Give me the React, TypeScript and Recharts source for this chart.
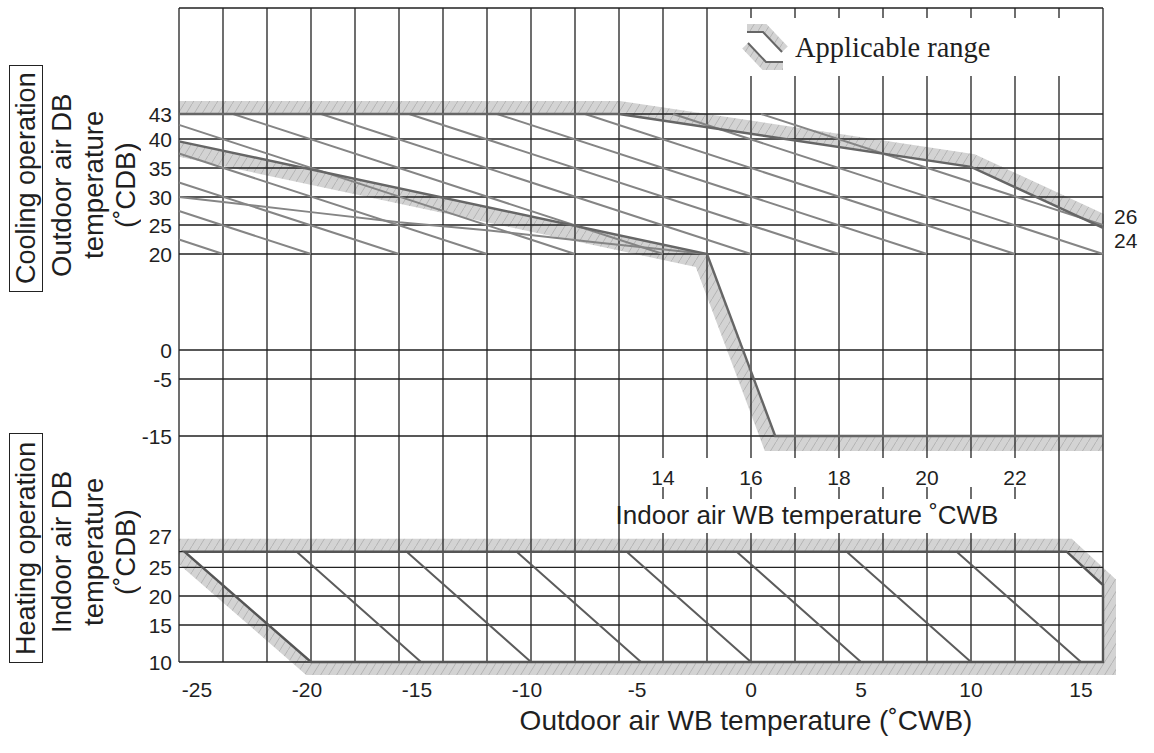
import React from 'react';
import { ComposedChart, Scatter, XAxis, YAxis } from 'recharts';

type Pt = [number, number];
type XY = { x: number; y: number };

// ---- cooling: indoor WB (°CWB) across, outdoor DB (°CDB) up ----
const coolLevels = [43, 40, 35, 30, 25, 20, 0, -5, -15];

const coolUpper: Pt[] = [[3, 43], [13, 43], [21, 35.2], [24, 24.5]];
const coolLower: Pt[] = [[3, 39.6], [15, 20], [16.55, -15], [24, -15]];

const coolDiagonals: Pt[][] = [
  [[3, 22.5], [4, 20]],
  [[3, 27.5], [6, 20]],
  [[3, 32.5], [8, 20]],
  [[3, 37.5], [10, 20]],
  [[3, 41.7], [12, 20]],
  [[4.23, 43], [14, 20]],
  [[6.23, 43], [16, 20]],
  [[8.23, 43], [18, 20]],
  [[10.23, 43], [20, 20]],
  [[12.23, 43], [22, 20]],
  [[14.23, 43], [24, 20]],
  [[16.23, 43], [24, 25]],
];

const coolCurve: Pt[] = [[3, 30], [6, 27.3], [8, 25.5], [10, 24.1], [12.5, 22], [15, 20]];

// ---- heating: outdoor WB (°CWB) across, indoor DB (°CDB) up ----
const heatLevels = [27, 25, 20, 15, 10];

const heatRange: Pt[] = [[-25.75, 27], [14.35, 27], [16, 21.9], [16, 10], [-20, 10]];

const heatDiagonals: Pt[][] = [
  [[-20.65, 27], [-15, 10]],
  [[-15.65, 27], [-10, 10]],
  [[-10.65, 27], [-5, 10]],
  [[-5.65, 27], [0, 10]],
  [[-0.65, 27], [5, 10]],
  [[4.35, 27], [10, 10]],
  [[9.35, 27], [15, 10]],
];

const outdoorTicks = [-25, -20, -15, -10, -5, 0, 5, 10, 15];
const indoorTicks = [14, 16, 18, 20, 22];
const gridX = [-26, -24, -22, -20, -18, -16, -14, -12, -10, -8, -6, -4, -2, 0, 2, 4, 6, 8, 10, 12, 14, 16];

// ---- layout ----
const W = 1154;
const H = 753;
const MARGIN = { top: 8, right: 51, bottom: 61, left: 119 };
const Y_AXIS_W = 60;
const PLOT_LEFT = MARGIN.left + Y_AXIS_W;
const PLOT_RIGHT = W - MARGIN.right;
const PLOT_ROWS = 654;

// the temperature scales are broken, so each level line has its own row (px below plot top)
const coolRows = [106, 131, 160, 189, 217, 246, 342, 371, 428];
const heatRows = [543.7, 559.3, 588, 617, 654];

const legendGap: [number, number] = [10, 68];
const labelGaps: [number, number][] = [[450, 479], [491, 525]];
const INDOOR_LABEL_ROW = 469;

const FONT = '"Liberation Sans", Arial, Helvetica, sans-serif';
const SERIF = '"Liberation Serif", "Times New Roman", serif';
const INK = '#1f1f1f';
const GRID = '#222';
const BOUNDARY = '#666';

function levelScale(levels: number[], rows: number[]) {
  return (t: number) => {
    for (let i = 0; i < levels.length - 1; i++) {
      const a = levels[i];
      const b = levels[i + 1];
      const last = i === levels.length - 2;
      if ((t <= a && t >= b) || (i === 0 && t > a) || last) {
        return rows[i] + ((a - t) / (a - b)) * (rows[i + 1] - rows[i]);
      }
    }
    return rows[0];
  };
}

const coolRow = levelScale(coolLevels, coolRows);
const heatRow = levelScale(heatLevels, heatRows);

const toXY = (pts: Pt[], row: (t: number) => number): XY[] => pts.map(([x, t]) => ({ x, y: row(t) }));
const pairs = (lines: Pt[][], row: (t: number) => number) => lines.flatMap((l) => toXY(l, row));

function verticalGrid(): XY[] {
  const out: XY[] = [];
  for (const x of gridX) {
    const gaps: [number, number][] = [];
    if (x >= 0 && x <= 14) gaps.push(legendGap);
    if (x >= -4 && x <= 12) gaps.push(...labelGaps);
    let start = 0;
    for (const [a, b] of gaps) {
      out.push({ x, y: start }, { x, y: a });
      start = b;
    }
    out.push({ x, y: start }, { x, y: PLOT_ROWS });
  }
  return out;
}

const horizontalGrid: XY[] = [0, ...coolRows, ...heatRows].flatMap((y) => [
  { x: -26, y },
  { x: 16, y },
]);

const indoorLabels = indoorTicks.map((x) => ({ x, y: INDOOR_LABEL_ROW }));

const yTicks = [...coolRows, ...heatRows];
const yLabels = new Map<number, string>();
coolRows.forEach((r, i) => yLabels.set(r, String(coolLevels[i])));
heatRows.forEach((r, i) => yLabels.set(r, String(heatLevels[i])));

// ---- drawing helpers ----
function offsetLine(pts: XY[], d: number, closed: boolean): XY[] {
  const n = pts.length;
  const norm = (a: XY, b: XY) => {
    const dx = b.x - a.x;
    const dy = b.y - a.y;
    const l = Math.hypot(dx, dy) || 1;
    return { x: -dy / l, y: dx / l };
  };
  return pts.map((p, i) => {
    const prev = i > 0 ? pts[i - 1] : closed ? pts[n - 1] : null;
    const next = i < n - 1 ? pts[i + 1] : closed ? pts[0] : null;
    const ns: XY[] = [];
    if (prev) ns.push(norm(prev, p));
    if (next) ns.push(norm(p, next));
    if (ns.length === 1) return { x: p.x + ns[0].x * d, y: p.y + ns[0].y * d };
    let mx = ns[0].x + ns[1].x;
    let my = ns[0].y + ns[1].y;
    const ml = Math.hypot(mx, my) || 1;
    mx /= ml;
    my /= ml;
    const c = Math.max(mx * ns[0].x + my * ns[0].y, 0.35);
    return { x: p.x + (mx * d) / c, y: p.y + (my * d) / c };
  });
}

const pathOf = (pts: XY[], close = false) =>
  pts.map((q, i) => `${i ? 'L' : 'M'}${q.x},${q.y}`).join('') + (close ? 'Z' : '');

const HatchDefs = () => (
  <defs>
    <pattern id="hatch" patternUnits="userSpaceOnUse" width="8" height="13">
      <rect width="8" height="13" fill="#d3d3d3" />
      <path d="M0,13L8,0" stroke="#b0b0b0" strokeWidth="0.9" />
    </pattern>
    <clipPath id="clipBoth">
      <rect x={PLOT_LEFT} y={0} width={PLOT_RIGHT - PLOT_LEFT + 1} height={H} />
    </clipPath>
    <clipPath id="clipLeft">
      <rect x={PLOT_LEFT} y={0} width={W} height={H} />
    </clipPath>
  </defs>
);

const band =
  (side: 1 | -1, width: number, closed: boolean, clip: string, defs = false) =>
  (p: any) => {
    const pts: XY[] = p.points || [];
    if (pts.length < 2) return <g />;
    const outer = offsetLine(pts, side * width, closed);
    const d = closed ? pathOf(outer, true) + pathOf(pts, true) : pathOf([...pts, ...outer.slice().reverse()], true);
    return (
      <g>
        {defs && <HatchDefs />}
        <path d={d} fill="url(#hatch)" fillRule="evenodd" clipPath={`url(#${clip})`} />
      </g>
    );
  };

const segments = (stroke: string, width: number) => (p: any) => {
  const pts: XY[] = p.points || [];
  let d = '';
  for (let i = 0; i + 1 < pts.length; i += 2) d += `M${pts[i].x},${pts[i].y}L${pts[i + 1].x},${pts[i + 1].y}`;
  return <path d={d} fill="none" stroke={stroke} strokeWidth={width} />;
};

const polyline = (stroke: string, width: number, closed = false) => (p: any) => (
  <path d={pathOf(p.points || [], closed)} fill="none" stroke={stroke} strokeWidth={width} strokeLinejoin="miter" />
);

const noDot = () => <g />;

const IndoorLabel = (p: any) => (
  <text x={p.cx} y={p.cy} textAnchor="middle" dominantBaseline="central" fontSize={21} fontFamily={FONT} fill={INK}>
    {p.payload?.x}
  </text>
);

const OutdoorTick = (p: any) => {
  const v = p.payload.value;
  return (
    <text x={p.x} y={p.y} dx={v < 0 ? -4 : 0} dy="0.71em" textAnchor="middle" fontSize={21} fontFamily={FONT} fill={INK}>
      {v}
    </text>
  );
};

const LevelTick = (p: any) => {
  const label = yLabels.get(p.payload.value) ?? '';
  const dy = p.payload.value === heatRows[0] ? -15 : 0;
  return (
    <text x={p.x} y={p.y + dy} textAnchor="end" dominantBaseline="central" fontSize={21} fontFamily={FONT} fill={INK}>
      {label}
    </text>
  );
};

// ---- overlay text ----
const vertical: React.CSSProperties = {
  position: 'absolute',
  writingMode: 'vertical-rl',
  transform: 'rotate(180deg)',
  fontFamily: FONT,
  color: INK,
  textAlign: 'center',
  whiteSpace: 'nowrap',
  display: 'flex',
  alignItems: 'center',
  justifyContent: 'center',
  boxSizing: 'border-box',
};

const boxed: React.CSSProperties = { ...vertical, border: '1.5px solid #222', fontSize: 27, lineHeight: '30px' };
const titled: React.CSSProperties = { ...vertical, fontSize: 27.5, lineHeight: '32px' };

function LegendSymbol() {
  const upper: XY[] = [{ x: 5, y: 14 }, { x: 21, y: 14 }, { x: 40, y: 34 }];
  const lower: XY[] = [{ x: 6, y: 25 }, { x: 24, y: 44 }, { x: 41, y: 44 }];
  const up = offsetLine(upper, -8, false);
  const lo = offsetLine(lower, 8, false);
  return (
    <g>
      <path d={pathOf([...upper, ...up.slice().reverse()], true)} fill="url(#hatch)" />
      <path d={pathOf([...lower, ...lo.slice().reverse()], true)} fill="url(#hatch)" />
      <path d={pathOf(upper)} fill="none" stroke={BOUNDARY} strokeWidth={2} />
      <path d={pathOf(lower)} fill="none" stroke={BOUNDARY} strokeWidth={2} />
    </g>
  );
}

export default function App() {
  const common = { isAnimationActive: false, shape: noDot, yAxisId: 'row', legendType: 'none' as const };
  return (
    <div style={{ position: 'relative', width: W, height: H, background: '#fff' }}>
      <style>{'body{margin:0}'}</style>
      <ComposedChart width={W} height={H} margin={MARGIN}>
        <XAxis
          xAxisId="out"
          type="number"
          dataKey="x"
          domain={[-26, 16]}
          ticks={outdoorTicks}
          interval={0}
          tickLine={false}
          axisLine={false}
          height={30}
          tickMargin={14}
          tick={OutdoorTick}
        />
        <XAxis xAxisId="in" orientation="top" type="number" dataKey="x" domain={[3, 24]} height={0} hide />
        <YAxis
          yAxisId="row"
          type="number"
          dataKey="y"
          domain={[0, PLOT_ROWS]}
          reversed
          ticks={yTicks}
          interval={0}
          tickLine={false}
          axisLine={false}
          width={Y_AXIS_W}
          tickMargin={1}
          tick={LevelTick}
        />

        {/* applicable-range bands */}
        <Scatter {...common} xAxisId="in" data={toXY(coolUpper, coolRow)} line={band(-1, 13, false, 'clipBoth', true)} />
        <Scatter {...common} xAxisId="in" data={toXY(coolLower, coolRow)} line={band(1, 15, false, 'clipBoth')} />
        <Scatter {...common} xAxisId="out" data={toXY(heatRange, heatRow)} line={band(-1, 13, true, 'clipLeft')} />

        {/* grid */}
        <Scatter {...common} xAxisId="out" data={horizontalGrid} line={segments(GRID, 1.3)} />
        <Scatter {...common} xAxisId="out" data={verticalGrid()} line={segments(GRID, 1.3)} />

        {/* conversion lines */}
        <Scatter {...common} xAxisId="in" data={pairs(coolDiagonals, coolRow)} line={segments('#858585', 2)} />
        <Scatter {...common} xAxisId="in" data={toXY(coolCurve, coolRow)} line={polyline('#858585', 2)} />
        <Scatter {...common} xAxisId="out" data={pairs(heatDiagonals, heatRow)} line={segments('#5c5c5c', 2)} />

        {/* range boundaries */}
        <Scatter {...common} xAxisId="in" data={toXY(coolUpper, coolRow)} line={polyline(BOUNDARY, 2.4)} />
        <Scatter {...common} xAxisId="in" data={toXY(coolLower, coolRow)} line={polyline(BOUNDARY, 2.4)} />
        <Scatter {...common} xAxisId="out" data={toXY(heatRange, heatRow)} line={polyline('#555', 2.4, true)} />

        {/* indoor WB scale, set inside the plot between the two sections */}
        <Scatter isAnimationActive={false} legendType="none" xAxisId="in" yAxisId="row" data={indoorLabels} shape={IndoorLabel} />
      </ComposedChart>

      <div style={{ ...boxed, left: 9, top: 65, width: 34, height: 227 }}>Cooling operation</div>
      <div style={{ ...titled, left: 46, top: 55, width: 96, height: 260 }}>
        <div>
          Outdoor air DB
          <br />
          temperature
          <br />
          (˚CDB)
        </div>
      </div>

      <div style={{ ...boxed, left: 9, top: 433, width: 34, height: 230 }}>Heating operation</div>
      <div style={{ ...titled, left: 46, top: 422, width: 96, height: 260 }}>
        <div>
          Indoor air DB
          <br />
          temperature
          <br />
          (˚CDB)
        </div>
      </div>

      <div
        style={{
          position: 'absolute',
          left: 807,
          top: 515,
          transform: 'translate(-50%, -50%)',
          fontFamily: FONT,
          fontSize: 26,
          color: INK,
          whiteSpace: 'nowrap',
        }}
      >
        Indoor air WB temperature ˚CWB
      </div>
      <div
        style={{
          position: 'absolute',
          left: 746,
          top: 721,
          transform: 'translate(-50%, -50%)',
          fontFamily: FONT,
          fontSize: 28,
          color: INK,
          whiteSpace: 'nowrap',
        }}
      >
        Outdoor air WB temperature (˚CWB)
      </div>

      <div style={{ position: 'absolute', left: 1114, top: 205, fontFamily: FONT, fontSize: 21, lineHeight: '24px', color: INK }}>
        26
        <br />
        24
      </div>

      <svg style={{ position: 'absolute', left: 742, top: 18 }} width={340} height={58}>
        <LegendSymbol />
        <text x={53} y={39} fontFamily={SERIF} fontSize={28.5} fill={INK}>
          Applicable range
        </text>
      </svg>
    </div>
  );
}
